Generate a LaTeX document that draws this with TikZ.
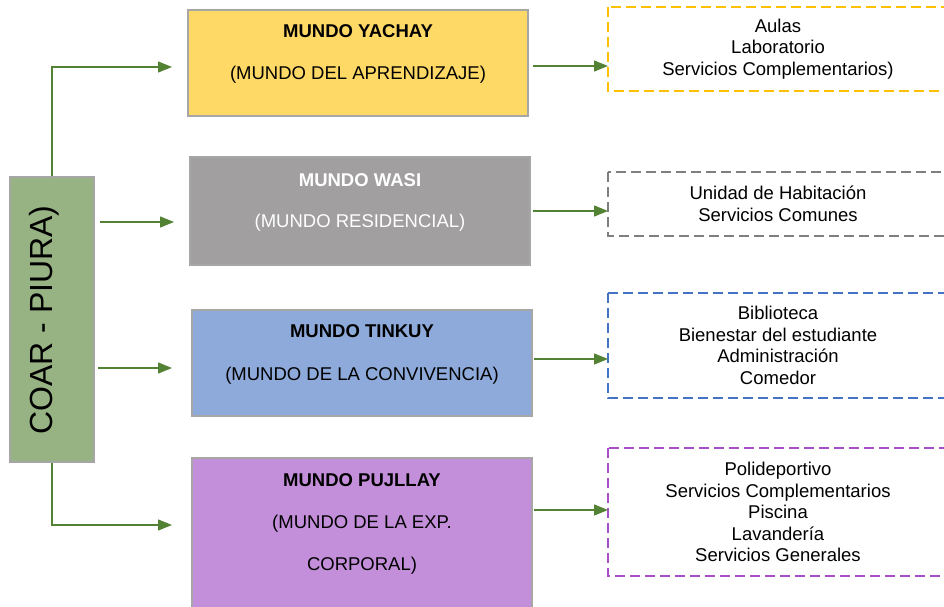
\documentclass[tikz,border=0pt]{standalone}
\usepackage{fontspec}
\setmainfont{Liberation Sans}
\usetikzlibrary{arrows.meta,calc}
\definecolor{ygold}{HTML}{FFD966}
\definecolor{wgray}{HTML}{A19F9F}
\definecolor{tblue}{HTML}{8EAADB}
\definecolor{ppurp}{HTML}{C48FDA}
\definecolor{cgreen}{HTML}{97B384}
\definecolor{bgray}{HTML}{A6A6A6}
\definecolor{agreen}{HTML}{548235}
\definecolor{dyellow}{HTML}{FFC000}
\definecolor{dgray}{HTML}{7F7F7F}
\definecolor{dblue}{HTML}{4472C4}
\definecolor{dpurp}{HTML}{A64DC8}
\begin{document}
\begin{tikzpicture}[x=1pt,y=-1pt,
  mundo/.style={draw=bgray, line width=2pt, minimum width=340pt, inner sep=0pt},
  ttl/.style={font=\fontsize{18.5}{21}\selectfont\bfseries, inner sep=0pt},
  subt/.style={font=\fontsize{18.5}{21}\selectfont, inner sep=0pt},
  detail/.style={minimum width=340pt, align=center, font=\fontsize{18.5}{21.5}\selectfont, inner sep=0pt, outer sep=0pt},
  dbox/.style={dashed, dash pattern=on 10pt off 5pt, line width=1.6pt},
  conn/.style={draw=agreen, line width=1.3pt, -{Triangle[length=14pt,width=11pt]}}]
\useasboundingbox (0,0) rectangle (944,607);
\clip (0,0) rectangle (944,607);
\fill[white] (0,0) rectangle (944,607);

% left box
\node[draw=bgray, line width=2pt, fill=cgreen, minimum width=84pt, minimum height=285pt, inner sep=0pt] (coar) at (52,319.5) {};
\node[rotate=90, anchor=base, font=\fontsize{32}{36}\selectfont, inner sep=0pt] (coart) at (52.5,320) {COAR - PIURA)};

% mundo boxes
\node[mundo, fill=ygold, minimum height=106pt] (yachay) at (358,63) {};
\node[ttl] (yachayt) at (358,31) {MUNDO YACHAY};
\node[subt] (yachays) at (358,75) {(MUNDO DEL APRENDIZAJE)};

\node[mundo, fill=wgray, minimum height=108pt] (wasi) at (360,211) {};
\node[ttl, text=white] (wasit) at (360,180) {MUNDO WASI};
\node[subt, text=white] (wasis) at (360,223) {(MUNDO RESIDENCIAL)};

\node[mundo, fill=tblue, minimum height=106pt] (tinkuy) at (362,363) {};
\node[ttl] (tinkuyt) at (362,331) {MUNDO TINKUY};
\node[subt] (tinkuys) at (362,376) {(MUNDO DE LA CONVIVENCIA)};

\node[mundo, fill=ppurp, minimum height=170pt] (pujllay) at (362,543) {};
\node[ttl] (pujllayt) at (362,480) {MUNDO PUJLLAY};
\node[subt] (pujllays) at (362,524) {(MUNDO DE LA EXP.};
\node[subt] (pujllayc) at (362,566) {CORPORAL)};

% detail boxes (they run past the right edge of the picture)
\node[detail, minimum height=84pt] (yachayd) at (778,49) {Aulas\\Laboratorio\\Servicios Complementarios)};
\node[detail, minimum height=64pt] (wasid) at (778,204) {Unidad de Habitación\\Servicios Comunes};
\node[detail, minimum height=105pt] (tinkuyd) at (778,345.5) {Biblioteca\\Bienestar del estudiante\\Administración\\Comedor};
\node[detail, minimum height=128pt] (pujllayd) at (778,512) {Polideportivo\\Servicios Complementarios\\Piscina\\Lavandería\\Servicios Generales};
\draw[dbox, draw=dyellow] (yachayd.north west) rectangle ($(yachayd.south east)+(40,0)$);
\draw[dbox, draw=dgray] (wasid.north west) rectangle ($(wasid.south east)+(40,0)$);
\draw[dbox, draw=dblue] (tinkuyd.north west) rectangle ($(tinkuyd.south east)+(40,0)$);
\draw[dbox, draw=dpurp] (pujllayd.north west) rectangle ($(pujllayd.south east)+(40,0)$);

% connector points
\coordinate (ya) at (172,67);
\coordinate (wa) at (174,222);
\coordinate (ti) at (172,368);
\coordinate (pu) at (172,525);
\coordinate (yr) at (0,66);
\coordinate (wr) at (0,211);
\coordinate (tr) at (0,359);
\coordinate (pr) at (0,510);

% left connectors
\draw[conn] (coar.north) |- (ya);
\draw[conn, shorten <=5pt] (coar.east |- wa) -- (wa);
\draw[conn, shorten <=3pt] (coar.east |- ti) -- (ti);
\draw[conn] (coar.south) |- (pu);

% right connectors
\draw[conn, shorten <=4pt] (yachay.east |- yr) -- (yachayd.west |- yr);
\draw[conn, shorten <=2pt] (wasi.east |- wr) -- (wasid.west |- wr);
\draw[conn, shorten <=1pt] (tinkuy.east |- tr) -- (tinkuyd.west |- tr);
\draw[conn, shorten <=1pt] (pujllay.east |- pr) -- (pujllayd.west |- pr);
\end{tikzpicture}
\end{document}
